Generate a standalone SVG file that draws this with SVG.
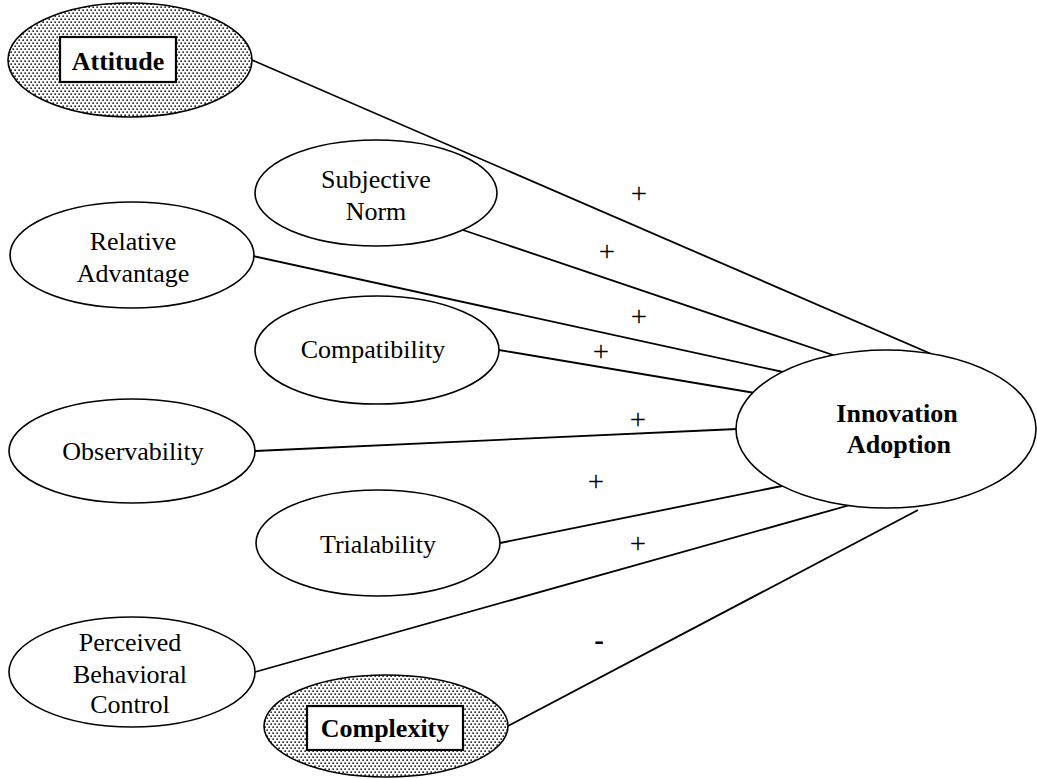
<svg xmlns="http://www.w3.org/2000/svg" width="1037" height="779" viewBox="0 0 1037 779">
<style>
.el{fill:#fff;stroke:#000;stroke-width:1.6}
.dot{fill:url(#stip);stroke:#000;stroke-width:1.6}
.box{fill:#fff;stroke:#000;stroke-width:2.2}
.t{font-family:"Liberation Serif","Times New Roman",serif;font-size:26px;fill:#000;text-anchor:middle}
.b{font-weight:bold}
.s{font-family:"Liberation Serif","Times New Roman",serif;font-size:29px;fill:#000;text-anchor:middle}
#connectors line{stroke:#000;stroke-width:1.8}
</style>
<defs>
<pattern id="stip" width="4" height="6" patternUnits="userSpaceOnUse">
<rect width="4" height="6" fill="#fff"/>
<rect x="0.4" y="0.4" width="1.5" height="1.5" fill="#000"/>
<rect x="2.4" y="3.4" width="1.5" height="1.5" fill="#000"/>
</pattern>
</defs>
<rect width="1037" height="779" fill="#fff"/>
<g id="connectors">
<line x1="252" y1="60" x2="1010" y2="388"/>
<line x1="463" y1="230" x2="833" y2="355"/>
<line x1="253" y1="256" x2="783" y2="372"/>
<line x1="499" y1="350" x2="755" y2="393"/>
<line x1="255" y1="451" x2="737" y2="429"/>
<line x1="500" y1="543" x2="782" y2="486"/>
<line x1="255" y1="672" x2="850" y2="505"/>
<line x1="508" y1="726" x2="918" y2="510"/>
</g>
<g id="signs">
<text class="s" x="639" y="203">+</text>
<text class="s" x="607" y="261">+</text>
<text class="s" x="639" y="326">+</text>
<text class="s" x="601" y="361">+</text>
<text class="s" x="638" y="429">+</text>
<text class="s" x="596" y="491">+</text>
<text class="s" x="638" y="553">+</text>
<text class="s b" x="599" y="650">-</text>
</g>
<g id="attitude">
<ellipse class="dot" cx="130" cy="60" rx="122" ry="57"/>
<rect class="box" x="60" y="37" width="116" height="45"/>
<text class="t b" x="118" y="70">Attitude</text>
</g>
<g id="subjective-norm">
<ellipse class="el" cx="376" cy="193" rx="121" ry="53"/>
<text class="t" x="376" y="188">Subjective</text>
<text class="t" x="376" y="220">Norm</text>
</g>
<g id="relative-advantage">
<ellipse class="el" cx="132" cy="255" rx="122" ry="53"/>
<text class="t" x="133" y="250">Relative</text>
<text class="t" x="133" y="282">Advantage</text>
</g>
<g id="compatibility">
<ellipse class="el" cx="377" cy="350" rx="122" ry="54"/>
<text class="t" x="373" y="358">Compatibility</text>
</g>
<g id="observability">
<ellipse class="el" cx="132" cy="451" rx="123" ry="52"/>
<text class="t" x="133" y="460">Observability</text>
</g>
<g id="trialability">
<ellipse class="el" cx="378" cy="543" rx="122" ry="53"/>
<text class="t" x="378" y="553">Trialability</text>
</g>
<g id="perceived-behavioral-control">
<ellipse class="el" cx="132" cy="672" rx="123" ry="55"/>
<text class="t" x="130" y="651">Perceived</text>
<text class="t" x="130" y="683">Behavioral</text>
<text class="t" x="130" y="713">Control</text>
</g>
<g id="complexity">
<ellipse class="dot" cx="386" cy="726" rx="122" ry="51"/>
<rect class="box" x="307" y="706" width="156" height="44"/>
<text class="t b" x="385" y="737">Complexity</text>
</g>
<g id="innovation-adoption">
<ellipse class="el" cx="886" cy="429" rx="150" ry="79"/>
<text class="t b" x="897" y="422">Innovation</text>
<text class="t b" x="899" y="453">Adoption</text>
</g>
</svg>
